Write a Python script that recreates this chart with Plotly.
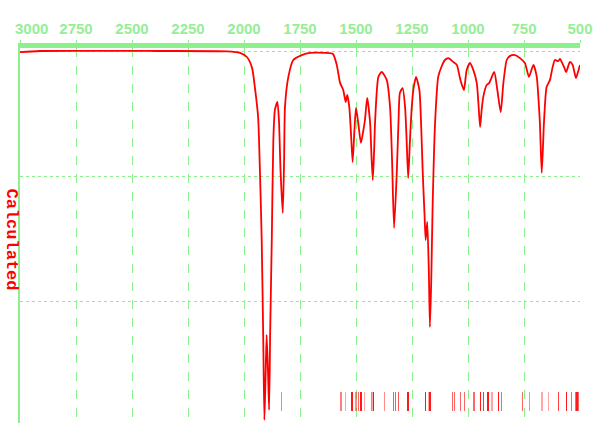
import plotly.graph_objects as go

# Calculated IR spectrum: wavenumber (cm-1) vs. transmittance (%)
wavenumber = [
    3000, 2911, 2388, 2076, 2018, 1987, 1964, 1951, 1937, 1929, 1921, 1914,
    1909, 1904, 1899, 1893, 1888, 1883, 1876, 1869, 1862, 1851, 1844, 1837,
    1827, 1821, 1817, 1802, 1780, 1742, 1705, 1638, 1603, 1586, 1571, 1557,
    1546, 1539, 1530, 1522, 1515, 1507, 1500, 1490, 1478, 1467, 1460, 1450,
    1437, 1431, 1425, 1419, 1415, 1400, 1385, 1363, 1348, 1339, 1330, 1318,
    1310, 1304, 1292, 1281, 1274, 1267, 1259, 1251, 1243, 1232, 1217, 1210,
    1202, 1194, 1189, 1182, 1175, 1170, 1164, 1158, 1147, 1133, 1117, 1103,
    1088, 1066, 1050, 1036, 1027, 1018, 1006, 991, 976, 961, 953, 946,
    939, 932, 917, 905, 883, 869, 854, 842, 827, 812, 790, 768,
    746, 728, 708, 693, 685, 679, 671, 665, 661, 649, 634, 623,
    612, 598, 589, 582, 571, 562, 545, 533, 518, 509, 500,
]
transmittance = [
    99.7, 100.0, 100.0, 99.9, 99.5, 98.4, 95.5, 90.1, 82.4, 68.3, 49.6, 22.9,
    1.6, 12.3, 24.3, 14.9, 4.3, 25.6, 49.6, 76.3, 84.3, 86.4, 81.6, 68.3,
    56.8, 70.9, 85.1, 93.1, 97.6, 98.9, 99.5, 99.5, 99.2, 96.3, 91.5, 89.6,
    86.4, 88.3, 85.1, 77.6, 70.4, 78.9, 84.8, 80.8, 75.5, 78.9, 81.6, 87.5,
    80.8, 72.3, 65.6, 73.6, 80.8, 93.1, 94.4, 92.3, 85.1, 70.9, 52.8, 67.5,
    81.6, 88.8, 90.1, 85.1, 76.3, 66.1, 76.3, 85.1, 90.1, 93.1, 89.6, 81.6,
    67.5, 56.3, 49.6, 54.4, 41.6, 26.4, 38.9, 58.4, 80.8, 93.1, 96.0, 97.6,
    98.1, 97.1, 96.3, 92.8, 90.9, 89.6, 94.9, 96.8, 94.9, 91.5, 85.6, 79.7,
    84.3, 87.7, 90.9, 91.5, 94.4, 89.6, 83.7, 91.5, 97.6, 98.7, 98.9, 98.1,
    96.8, 93.1, 96.3, 93.1, 86.9, 80.8, 67.5, 74.9, 80.8, 90.4, 92.3, 95.5,
    97.6, 97.3, 97.9, 97.1, 95.7, 94.4, 97.1, 96.3, 92.8, 94.4, 96.3,
]

# Calculated vibrational frequencies (stick markers) and relative intensities
stick_wavenumber = [
    1832, 1567, 1548, 1518, 1500, 1488, 1478, 1463, 1432, 1424, 1421, 1372,
    1332, 1324, 1311, 1268, 1189, 1175, 1170, 1070, 1059, 1034, 1016, 973,
    943, 930, 911, 893, 865, 851, 756, 726, 670, 640, 597, 561,
    539, 519, 513, 508,
]
stick_intensity = [
    0.5, 0.5, 0.35, 0.9, 0.45, 0.6, 0.9, 0.35, 0.5, 0.35, 0.9, 0.45,
    0.65, 0.65, 0.65, 0.9, 0.9, 0.35, 0.9, 0.6, 0.6, 0.6, 0.6, 0.6,
    0.9, 0.8, 0.9, 0.35, 0.9, 0.6, 0.6, 0.45, 0.35, 0.35, 0.75, 0.9,
    0.6, 0.6, 0.9, 0.6,
]

x_ticks = [3000, 2750, 2500, 2250, 2000, 1750, 1500, 1250, 1000, 750, 500]

GREEN = "#8df08d"
GREEN_TEXT = "#96ee96"
RED = "#ff0000"
TICK_FONT = dict(family="Liberation Sans, Arial, sans-serif", size=15,
                 color=GREEN_TEXT, weight="bold")

fig = go.Figure()

# stick markers near the bottom of the frame
fig.add_trace(go.Bar(
    x=stick_wavenumber,
    y=[5.0] * len(stick_wavenumber),
    base=[4.0] * len(stick_wavenumber),
    width=[6.0] * len(stick_wavenumber),
    marker=dict(
        color=[f"rgba(255,0,0,{a})" for a in stick_intensity],
        line=dict(width=0),
    ),
    showlegend=False,
    hoverinfo="skip",
))

# spectrum curve
fig.add_trace(go.Scatter(
    x=wavenumber,
    y=transmittance,
    mode="lines",
    line=dict(color=RED, width=1.8, shape="spline", smoothing=0.6),
    showlegend=False,
))

fig.update_layout(
    width=593,
    height=423,
    margin=dict(l=20, r=13, t=48, b=0),
    paper_bgcolor="white",
    plot_bgcolor="white",
    bargap=0,
    barmode="overlay",
    xaxis=dict(
        side="top",
        range=[3000, 500],
        tickvals=x_ticks,
        ticktext=["" if v == 3000 else str(v) for v in x_ticks],
        ticks="outside",
        ticklen=3,
        tickwidth=1,
        tickcolor=GREEN,
        tickfont=TICK_FONT,
        ticklabeloverflow="allow",
        showline=True,
        linecolor=GREEN,
        linewidth=5,
        showgrid=True,
        gridcolor=GREEN,
        gridwidth=1,
        griddash="dash",
        zeroline=False,
        fixedrange=True,
    ),
    yaxis=dict(
        range=[0.8, 100.8],
        tickvals=[100, 200 / 3, 100 / 3],
        showticklabels=False,
        ticks="",
        showline=True,
        linecolor=GREEN,
        linewidth=2,
        showgrid=True,
        gridcolor=GREEN,
        gridwidth=1,
        griddash="dot",
        zeroline=False,
        fixedrange=True,
    ),
    annotations=[
        dict(
            text="3000",
            x=3000, xref="x",
            y=1, yref="paper",
            yanchor="bottom",
            xanchor="center",
            xshift=11,
            yshift=9,
            showarrow=False,
            font=TICK_FONT,
        ),
        dict(
            text="<b>Calculated</b>",
            x=0, xref="paper",
            y=0.5, yref="paper",
            xanchor="center",
            xshift=-9,
            yshift=-4,
            textangle=90,
            showarrow=False,
            font=dict(family="Liberation Mono, Courier New, monospace", size=17, color=RED),
        ),
    ],
)

fig.write_html("out.html")
